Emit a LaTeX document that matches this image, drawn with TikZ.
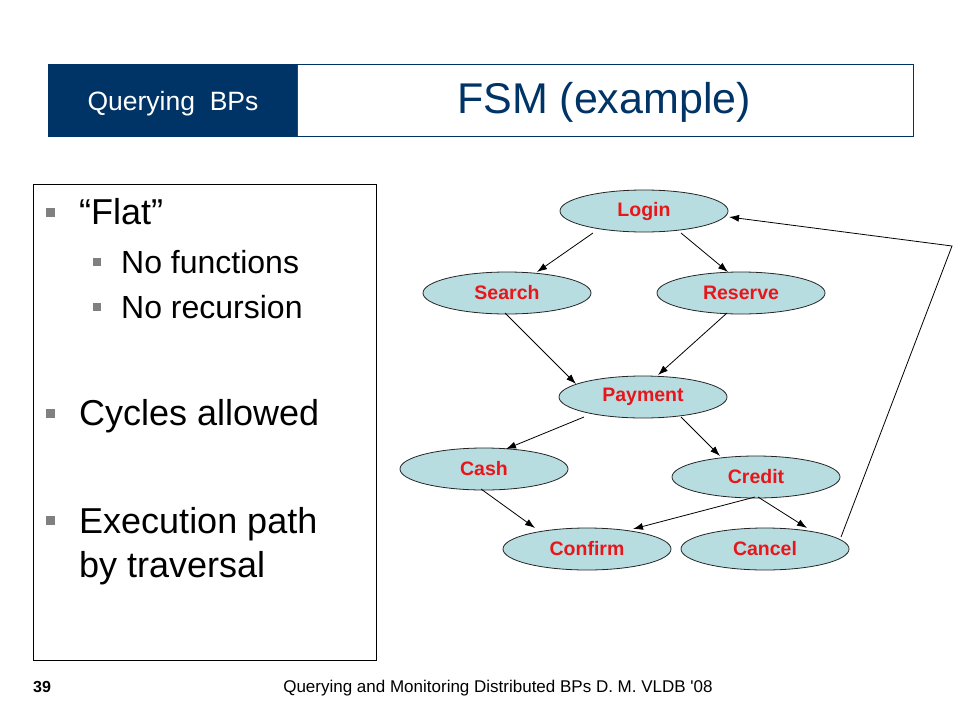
\documentclass[tikz,border=0pt]{standalone}
\usepackage{fontspec}
\setmainfont{Liberation Sans}
\usetikzlibrary{shapes.geometric,arrows.meta}
\definecolor{navy}{HTML}{003366}
\definecolor{stateblue}{HTML}{B7DDE0}
\definecolor{statered}{HTML}{E8161B}
\definecolor{bulletgray}{HTML}{808080}
\definecolor{edgepurple}{HTML}{5A2D7A}
\begin{document}
\begin{tikzpicture}[x=1pt,y=-1pt,
  state/.style={ellipse,draw=black!85,line width=0.8pt,fill=stateblue,
    minimum width=168pt,minimum height=42pt,inner sep=0pt,
    font=\fontsize{19.5}{22}\selectfont\bfseries,text=statered},
  edge/.style={-{Latex[length=10pt,width=7pt]},line width=0.8pt},
  bulA/.style={rectangle,fill=bulletgray,minimum size=9pt,inner sep=0pt},
  bulB/.style={rectangle,fill=bulletgray,minimum size=8pt,inner sep=0pt},
  lvA/.style={anchor=base west,inner sep=0pt,font=\fontsize{36}{40}\selectfont},
  lvB/.style={anchor=base west,inner sep=0pt,font=\fontsize{32}{36}\selectfont}]
\useasboundingbox (0,0) rectangle (960,720);
\fill[white] (0,0) rectangle (960,720);
% header
\fill[navy] (48,64) rectangle (297,136);
\draw[edgepurple,line width=0.8pt] (297,64) -- (297,136);
\draw[navy,line width=1pt] (48,64) rectangle (913,136);
\node[anchor=base,inner sep=0pt,text=white,font=\fontsize{26.5}{30}\selectfont] (sect) at (173,110) {Querying\ \ BPs};
\node[anchor=base,inner sep=0pt,text=navy,font=\fontsize{43}{48}\selectfont] (title) at (604,113) {FSM (example)};
% left panel
\draw[black,line width=0.8pt] (33,184) rectangle (376,660);
\node[bulA] (b1) at (50,212) {};
\node[lvA] (t1) at (79,224) {“Flat”};
\node[bulB] (b2) at (97,262) {};
\node[lvB] (t2) at (121,273) {No functions};
\node[bulB] (b3) at (97,307) {};
\node[lvB] (t3) at (121,318) {No recursion};
\node[bulA] (b4) at (50,413) {};
\node[lvA] (t4) at (79,425) {Cycles\ allowed};
\node[bulA] (b5) at (50,520) {};
\node[lvA] (t5) at (79,533) {Execution\ path};
\node[lvA] (t6) at (79,577) {by traversal};
% states
\node[state] (login) at (644,211) {Login};
\node[state] (search) at (507,293) {Search};
\node[state] (reserve) at (741,293) {Reserve};
\node[state] (payment) at (643,397) {Payment};
\node[state] (cash) at (484,469) {Cash};
\node[state] (credit) at (756,477) {Credit};
\node[state] (confirm) at (587,549) {Confirm};
\node[state] (cancel) at (765,549) {Cancel};
\coordinate (corner) at (952,246);
% transitions
\draw[edge] ([shift={(-51,22)}]login.center) -- ([shift={(30,-21)}]search.center);
\draw[edge] ([shift={(37,22)}]login.center) -- ([shift={(-13,-21)}]reserve.center);
\draw[edge] ([shift={(-2,20)}]search.center) -- ([shift={(-67,-13)}]payment.center);
\draw[edge] ([shift={(-14,20)}]reserve.center) -- ([shift={(15,-22)}]payment.center);
\draw[edge] ([shift={(-59,20)}]payment.center) -- ([shift={(22,-20)}]cash.center);
\draw[edge] ([shift={(38,20)}]payment.center) -- ([shift={(-36,-21)}]credit.center);
\draw[edge] ([shift={(-3,20)}]cash.center) -- ([shift={(-52,-21)}]confirm.center);
\draw[edge] ([shift={(-1,20)}]credit.center) -- ([shift={(46,-20)}]confirm.center);
\draw[edge] ([shift={(2,20)}]credit.center) -- ([shift={(42,-21)}]cancel.center);
\draw[edge] ([shift={(76,-12)}]cancel.center) -- (corner) -- ([shift={(85,6)}]login.center);
% footer
\node[anchor=base west,inner sep=0pt,font=\fontsize{16}{18}\selectfont\bfseries] (pnum) at (33,692) {39};
\node[anchor=base,inner sep=0pt,font=\fontsize{17}{20}\selectfont] (foot) at (498,692) {Querying and Monitoring Distributed BPs D. M. VLDB \textquotesingle 08};
\end{tikzpicture}
\end{document}
